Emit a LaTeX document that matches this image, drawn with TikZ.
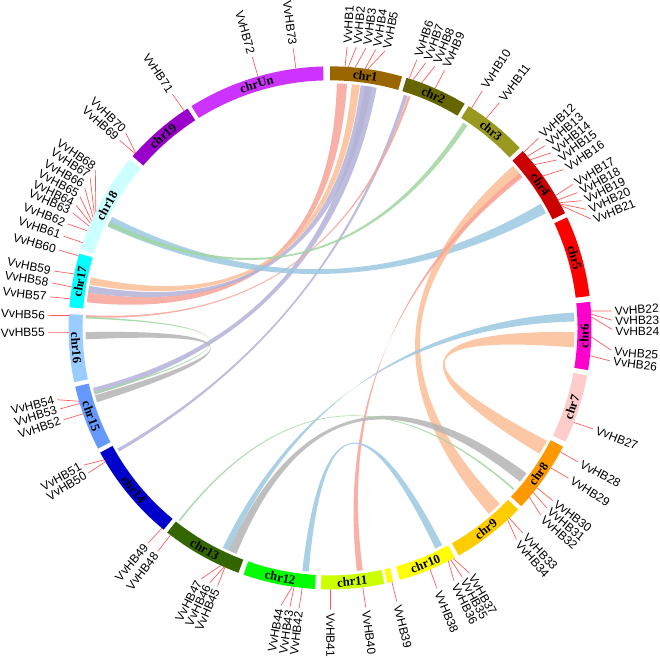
\documentclass[tikz,border=0pt]{standalone}
\usepackage{fontspec}
\setmainfont{Liberation Serif}
\setsansfont{Liberation Sans}
\usetikzlibrary{calc}
\definecolor{c1}{RGB}{153,102,0}
\definecolor{c2}{RGB}{102,102,0}
\definecolor{c3}{RGB}{153,153,34}
\definecolor{c4}{RGB}{204,0,0}
\definecolor{c5}{RGB}{255,0,0}
\definecolor{c6}{RGB}{255,0,204}
\definecolor{c7}{RGB}{255,204,204}
\definecolor{c8}{RGB}{255,153,0}
\definecolor{c9}{RGB}{255,204,0}
\definecolor{c10}{RGB}{255,255,0}
\definecolor{c11}{RGB}{204,255,0}
\definecolor{c12}{RGB}{0,255,0}
\definecolor{c13}{RGB}{51,102,0}
\definecolor{c14}{RGB}{0,0,204}
\definecolor{c15}{RGB}{102,153,255}
\definecolor{c16}{RGB}{153,204,255}
\definecolor{c17}{RGB}{0,255,255}
\definecolor{c18}{RGB}{204,255,255}
\definecolor{c19}{RGB}{153,0,204}
\definecolor{cUn}{RGB}{204,51,255}
\definecolor{lkSalmon}{RGB}{248,164,152}
\definecolor{lkPeach}{RGB}{252,190,150}
\definecolor{lkLav}{RGB}{180,178,216}
\definecolor{lkBlue}{RGB}{156,200,225}
\definecolor{lkGreen}{RGB}{160,214,160}
\definecolor{lkGray}{RGB}{180,180,180}
\definecolor{tickred}{RGB}{255,90,90}

\begin{document}
\begin{tikzpicture}[x=0.75pt,y=0.75pt,
  chrlab/.style={font=\fontsize{9.5}{11}\selectfont\bfseries,inner sep=0pt},
  genelab/.style={font=\sffamily\fontsize{9}{10}\selectfont,inner sep=0.5pt},
  tick/.style={tickred,line width=0.5pt,shorten >=2pt},
  ribbon/.style={fill opacity=.85}]
\fill[white] (-330,-329.5) rectangle (330,328.5);

% links between homologous genes
\foreach \ea/\eb/\ec/\ed/\col in {
    86/174/171.7/88.4/lkSalmon, 83/169.8/168.1/84.9/lkPeach,
    80.2/171.7/170.1/82.8/lkLav, 79/195.8/194.2/81.8/lkLav,
    71.5/210.4/209.6/72.4/lkLav, 70.8/177.5/177.0/71.4/lkSalmon,
    28/155.5/153/30.5/lkBlue, 55.8/155.3/154.3/57/lkGreen,
    -49.5/41.5/38.5/-46/lkPeach, -83.7/38/39.2/-82.3/lkSalmon,
    -31/-1/-4.6/-27.5/lkPeach, -116/1.5/3.6/-114.5/lkBlue,
    -114.5/-36.5/-39/-112.5/lkGray, -128.2/-41.1/-41.5/-127.8/lkGreen,
    -96.5/-62.7/-64.5/-95/lkBlue, -179/-162.3/-164/-177.3/lkGray,
    -182.6/-164.4/-164.8/-182.2/lkGreen}
  \fill[\col,ribbon] (\ea:245) .. controls (\ea:81.7) and (\eb:81.7) .. (\eb:245)
    arc[start angle=\eb,end angle=\ec,radius=245]
    .. controls (\ec:81.7) and (\ed:81.7) .. (\ed:245)
    arc[start angle=\ed,end angle=\ea,radius=245] -- cycle;

% chromosome ring
\foreach \chr/\sa/\sb/\col in {chr1/90/74/c1, chr2/73/59/c2, chr3/58/43.5/c3,
    chr4/42.5/26/c4, chr5/25/7/c5, chr6/5.7/-9.3/c6, chr7/-10.5/-25.8/c7,
    chr8/-27/-43/c8, chr9/-44/-60.5/c9, chr10/-61.5/-74.5/c10,
    chr11/-78/-92/c11, chr12/-93.3/-109.3/c12, chr13/-110.5/-128.5/c13,
    chr14/-129.5/-151.5/c14, chr15/-152.5/-167/c15, chr16/-168/-183/c16,
    chr17/175.5/163.5/c17, chr18/162.5/140/c18, chr19/139/123/c19,
    chrUn/122/91.5/cUn}{
  \fill[\col] (\sa:248) arc[start angle=\sa,end angle=\sb,radius=248]
    -- (\sb:262) arc[start angle=\sb,end angle=\sa,radius=262] -- cycle;
  \pgfmathsetmacro\mid{(\sa+\sb)/2}
  \pgfmathsetmacro\rot{ifthenelse(\mid>0,\mid-90,\mid+90)}
  \node[chrlab,rotate=\rot] (\chr) at (\mid:255) {\chr};
}
\fill[c10] (-76:248) arc[start angle=-76,end angle=-77.3,radius=248]
  -- (-77.3:262) arc[start angle=-77.3,end angle=-76,radius=262] -- cycle;

% gene labels, right half
\foreach \n/\g/\l in {1/86.7/86.5, 2/86.0/84.5, 3/84.5/82.5, 4/82.3/80.5,
    5/81.7/78.5, 6/72.4/72.0, 7/71.5/70.0, 8/69.5/68.0, 9/66.3/66.0,
    10/57.2/57.3, 11/53.3/53.0, 12/42.2/42.3, 13/41.0/40.2, 14/40.0/38.2,
    15/38.6/36.3, 16/35.5/34.0, 17/30.4/30.6, 18/29.3/28.6, 19/28.6/26.6,
    20/28.3/24.5, 21/27.9/22.3, 22/3.7/3.4, 23/3.0/1.4, 24/2.4/-0.6,
    25/-2.0/-4.8, 26/-6.1/-6.8, 27/-21.2/-21.0, 28/-28.3/-28.4,
    29/-32.4/-32.2, 30/-37.7/-37.8, 31/-39.0/-39.8, 32/-40.3/-41.8,
    33/-46.7/-46.8, 34/-47.2/-48.8, 35/-62.5/-62.0, 36/-63.1/-64.0,
    37/-61.9/-60.2, 38/-67.5/-67.7, 39/-76.3/-76.3, 40/-82.8/-82.7,
    41/-89.9/-89.9}{
  \coordinate (g\n) at (\g:262);
  \node[genelab,rotate=\l,anchor=west] (v\n) at (\l:285) {VvHB\n};
  \draw[tick] (g\n) -- (v\n.west);
}
% gene labels, left half
\foreach \n/\g/\l in {42/263.9/263.7, 43/262.1/261.8, 44/261.7/259.8,
    45/246.3/246.5, 46/246.1/244.6, 47/245.3/242.6, 48/232.4/232.4,
    49/230.0/229.8, 50/210.8/211.0, 51/210.3/209.0, 52/199.2/199.0,
    53/196.8/196.7, 54/196.3/194.6, 55/181.0/180.9, 56/177.3/177.5,
    57/173.6/173.7, 58/171.0/170.8, 59/168.1/168.4, 60/164.0/164.0,
    61/161.0/161.0, 62/158.2/158.4, 63/157.1/155.8, 64/156.4/154.0,
    65/155.8/152.0, 66/155.0/149.9, 67/154.3/147.6, 68/153.6/145.6,
    69/138.2/138.3, 70/138.0/136.2, 71/123.9/124.0, 72/106.0/106.0,
    73/97.5/97.5}{
  \coordinate (g\n) at (\g:262);
  \node[genelab,rotate=\l+180,anchor=east] (v\n) at (\l:285) {VvHB\n};
  \draw[tick] (g\n) -- (v\n.east);
}
\end{tikzpicture}
\end{document}
